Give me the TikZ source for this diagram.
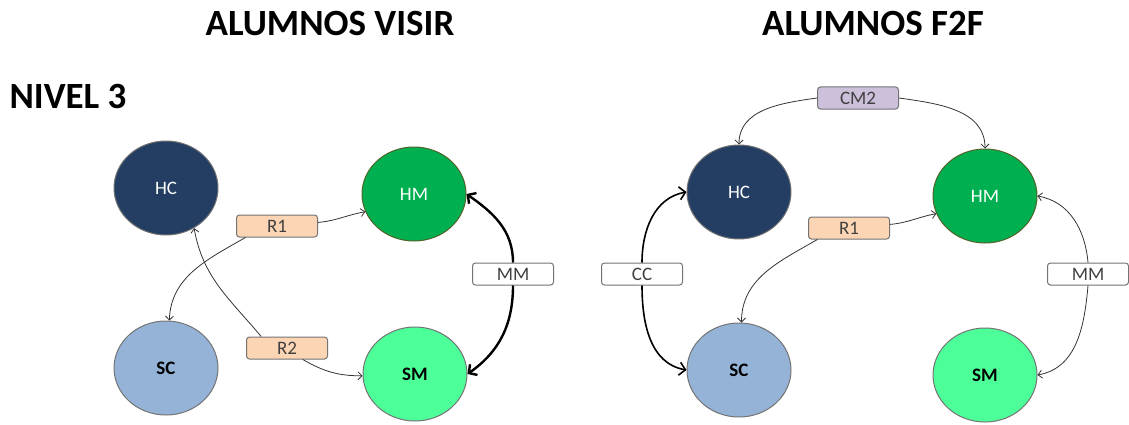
\documentclass[tikz,border=0pt]{standalone}
\usepackage{fontspec}
\setmainfont{Carlito}
\usetikzlibrary{shapes.geometric,arrows.meta}

\definecolor{navy}{RGB}{35,62,98}
\definecolor{hmgreen}{RGB}{0,176,80}
\definecolor{hmline}{RGB}{80,100,40}
\definecolor{scblue}{RGB}{149,179,215}
\definecolor{smmint}{RGB}{77,255,153}
\definecolor{peach}{RGB}{252,213,181}
\definecolor{lavender}{RGB}{204,192,218}
\definecolor{rim}{RGB}{115,115,115}
\definecolor{labelgray}{RGB}{64,64,64}

\begin{document}
\begin{tikzpicture}[x=1pt,y=1pt,->,>={Straight Barb[length=4pt,width=8pt]},
    state/.style={ellipse,draw=rim,line width=1pt,minimum width=104pt,minimum height=94pt,
      inner sep=0pt,font=\fontsize{19}{19}\selectfont},
    tag/.style={draw=rim,line width=1pt,rounded corners=3pt,fill=white,minimum width=81pt,
      minimum height=22pt,inner sep=0pt,text=labelgray,font=\fontsize{19}{19}\selectfont},
    heading/.style={font=\fontsize{37}{37}\selectfont\bfseries},
    link/.style={line width=0.8pt,draw=black!80},
    strong/.style={line width=2.4pt,-{Straight Barb[length=6pt,width=13pt]}}]
    \path[use as bounding box] (0,0) rectangle (1129,424);

    \node[heading](tvisir) at (330,400){ALUMNOS VISIR};
    \node[heading](tf2f) at (873,400){ALUMNOS F2F};
    \node[heading](nivel) at (68,328){NIVEL 3};

    % VISIR
    \node[state,fill=navy,text=white](hc1) at (166,236){HC};
    \node[state,fill=hmgreen,draw=hmline,text=white](hm1) at (414,230){HM};
    \node[state,fill=scblue](sc1) at (166,56){\textbf{SC}};
    \node[state,fill=smmint](sm1) at (415,50){\textbf{SM}};
    \node[tag,fill=peach](r1a) at (277,198){R1};
    \node[tag,fill=peach](r2a) at (287,76){R2};
    \node[tag](mma) at (513,150){MM};

    \path (r1a.5) edge[link,out=5,in=190] (hm1.200);
    \path (r1a.200) edge[link,out=210,in=88] (sc1.86);
    \path (r2a.156) edge[link,out=130,in=-80] (hc1.-55);
    \path (r2a.-36) edge[link,out=-30,in=180] (sm1.182);
    \path (mma.north) edge[strong,out=90,in=-35] (hm1.east);
    \path (mma.south) edge[strong,out=-90,in=35] (sm1.east);

    % F2F
    \node[state,fill=navy,text=white](hc2) at (739,232){HC};
    \node[state,fill=hmgreen,draw=hmline,text=white](hm2) at (985,228){HM};
    \node[state,fill=scblue](sc2) at (739,54){\textbf{SC}};
    \node[state,fill=smmint](sm2) at (985,49){\textbf{SM}};
    \node[tag,fill=lavender](cm2) at (858,326){CM2};
    \node[tag,fill=peach](r1b) at (849,196){R1};
    \node[tag](ccb) at (642,150){CC};
    \node[tag](mmb) at (1088,150){MM};

    \path (cm2.west) edge[link,out=188,in=90] (hc2.north);
    \path (cm2.east) edge[link,out=-8,in=90] (hm2.north);
    \path (r1b.5) edge[link,out=5,in=190] (hm2.200);
    \path (r1b.200) edge[link,out=210,in=90] (sc2.87);
    \path (ccb.north) edge[strong,line width=1.6pt,out=90,in=190] (hc2.west);
    \path (ccb.south) edge[strong,line width=1.6pt,out=-90,in=170] (sc2.west);
    \path (mmb.north) edge[link,out=95,in=-10] (hm2.east);
    \path (mmb.south) edge[link,out=-95,in=10] (sm2.east);
\end{tikzpicture}
\end{document}
